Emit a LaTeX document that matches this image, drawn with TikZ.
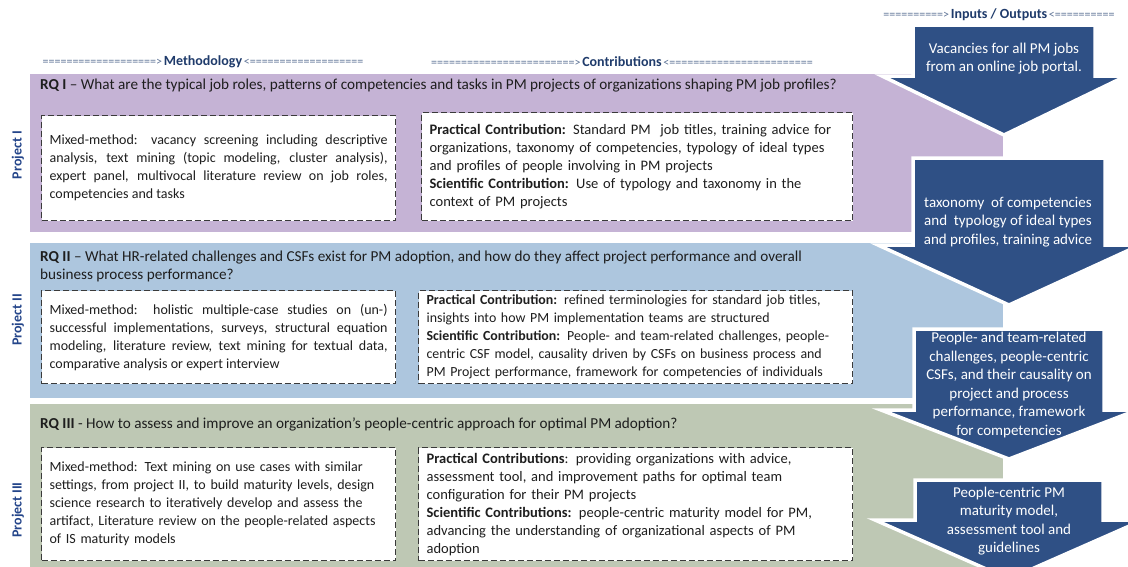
\documentclass[tikz,border=0pt]{standalone}
\usepackage{fontspec}
\setmainfont{Carlito}
\definecolor{bandA}{HTML}{C5B3D5}
\definecolor{bandB}{HTML}{ADC6DE}
\definecolor{bandC}{HTML}{BEC8B4}
\definecolor{arrowblue}{HTML}{2F5085}
\definecolor{projblue}{HTML}{24458A}
\definecolor{hdrblue}{HTML}{1F3B6B}
\definecolor{eqcol}{HTML}{5E7396}
\definecolor{boxborder}{HTML}{3A3A3A}
\definecolor{textgray}{HTML}{1E1E1E}
\newcommand{\eqs}[1]{{\fontsize{12}{13}\selectfont\color{eqcol}#1}}
\newcommand{\hw}[1]{{\bfseries\fontsize{14}{15}\selectfont\color{hdrblue}#1}}
\newcommand{\dnarrow}[6]{%
  \path[flowarrow] (#1-#5,#2) -- (#1+#5,#2) -- (#1+#5,#3) -- (#1+#6,#3) -- (#1,#4) -- (#1-#6,#3) -- (#1-#5,#3) -- cycle;}
\tikzset{
  flowarrow/.style={fill=arrowblue, draw=white, line width=3.5pt, line join=miter},
  arrowtext/.style={text=white, align=center, font=\fontsize{15}{18.5}\selectfont, inner sep=0pt},
  dbox/.style={draw=boxborder, dash pattern=on 6pt off 3pt, line width=1.2pt, fill=white,
    anchor=north west, inner xsep=8pt, inner ysep=3pt, text=textgray},
  lfont/.style={font=\fontsize{14}{18}\selectfont},
  rfont/.style={font=\fontsize{14.5}{18}\selectfont},
  rq/.style={anchor=north west, font=\fontsize{15.2}{18}\selectfont, inner sep=0pt, text=textgray},
  proj/.style={rotate=90, font=\bfseries\fontsize{14}{16}\selectfont, text=projblue, inner sep=0pt},
  hdr/.style={inner sep=0pt}
}
\begin{document}
\begin{tikzpicture}[x=1pt,y=-1pt]
\useasboundingbox (0,0) rectangle (1128,566);
\fill[white] (0,0) rectangle (1128,566);
\begin{scope}
\clip (0,0) rectangle (1128,566);
% bands
\fill[bandA] (30,74) rectangle (1003,232);
\fill[bandB] (30,243) rectangle (1003,398);
\fill[bandC] (30,404) rectangle (1003,570);
% arrows
\dnarrow{1004}{25}{76}{135}{91}{122}
\dnarrow{1009}{158}{245}{305}{96}{131}
\dnarrow{1009}{329}{410}{459}{95}{128}
\dnarrow{1009}{480}{520}{579}{94}{134}
\end{scope}
% headers
\node[hdr] (hio) at (999,15) {\eqs{==========>}\,\hw{Inputs / Outputs}\,\eqs{<==========}};
\node[hdr] (hme) at (203,62) {\eqs{===================>}\,\hw{Methodology}\,\eqs{<===================}};
\node[hdr] (hco) at (622,62) {\eqs{========================>}\,\hw{Contributions}\,\eqs{<========================}};
% arrow texts
\node[arrowtext] (a1) at (1004,58.5) {Vacancies for all PM jobs\\from an online job portal.};
\node[arrowtext] (a2) at (1008,222) {taxonomy~ of competencies\\and~ typology of ideal types\\and profiles, training advice};
\node[arrowtext] (a3) at (1009,385) {People- and team-related\\challenges, people-centric\\CSFs, and their causality on\\project and process\\performance, framework\\for competencies};
\node[arrowtext] (a4) at (1009,521) {People-centric PM\\maturity model,\\assessment tool and\\guidelines};
% project labels
\node[proj] (p1) at (18,155) {Project I};
\node[proj] (p2) at (18,320) {Project II};
\node[proj] (p3) at (18,510) {Project III};
% research questions
\node[rq] (rq1) at (40,79) {\textbf{RQ I} – What are the typical job roles, patterns of competencies and tasks in PM projects of organizations shaping PM job profiles?};
\node[rq, align=left] (rq2) at (40,251) {\textbf{RQ II} – What HR-related challenges and CSFs exist for PM adoption, and how do they affect project performance and overall\\business process performance?};
\node[rq] (rq3) at (40,418) {\textbf{RQ III} - How to assess and improve an organization’s people-centric approach for optimal PM adoption?};
% boxes band 1
\node[dbox, lfont, minimum width=354pt, minimum height=105pt, text width=338pt, align=justify] (m1) at (41,115)
 {Mixed-method: vacancy screening including descriptive\linebreak analysis, text mining (topic modeling, cluster analysis),\linebreak expert panel, multivocal literature review on job roles,\linebreak competencies and tasks};
\node[dbox, rfont, minimum width=431pt, minimum height=108pt, text width=415pt, align=left] (c1) at (421,112)
 {\textbf{Practical Contribution:} Standard PM~ job titles, training advice for\\organizations, taxonomy of competencies, typology of ideal types\\and profiles of people involving in PM projects\\\textbf{Scientific Contribution:} Use of typology and taxonomy in the\\context of PM projects};
% boxes band 2
\node[dbox, lfont, minimum width=354pt, minimum height=93pt, text width=338pt, align=justify] (m2) at (41,290)
 {Mixed-method: holistic multiple-case studies on (un-)\linebreak successful implementations, surveys, structural equation\linebreak modeling, literature review, text mining for textual data,\linebreak comparative analysis or expert interview};
\node[dbox, font=\fontsize{13.9}{18}\selectfont, minimum width=434pt, minimum height=93pt, text width=418pt, align=left] (c2) at (418,290)
 {\textbf{Practical Contribution:} refined terminologies for standard job titles,\\insights into how PM implementation teams are structured\\\textbf{Scientific Contribution:} People- and team-related challenges, people-\\centric CSF model, causality driven by CSFs on business process and\\PM Project performance, framework for competencies of individuals};
% boxes band 3
\node[dbox, lfont, minimum width=354pt, minimum height=113pt, text width=338pt, align=left] (m3) at (41,447)
 {Mixed-method: Text mining on use cases with similar\\settings, from project II, to build maturity levels, design\\science research to iteratively develop and assess the\\artifact, Literature review on the people-related aspects\\of IS maturity models};
\node[dbox, rfont, minimum width=434pt, minimum height=113pt, text width=418pt, align=left] (c3) at (418,447)
 {\textbf{Practical Contributions}: providing organizations with advice,\\assessment tool, and improvement paths for optimal team\\configuration for their PM projects\\\textbf{Scientific Contributions:} people-centric maturity model for PM,\\advancing the understanding of organizational aspects of PM\\adoption};
\end{tikzpicture}
\end{document}
